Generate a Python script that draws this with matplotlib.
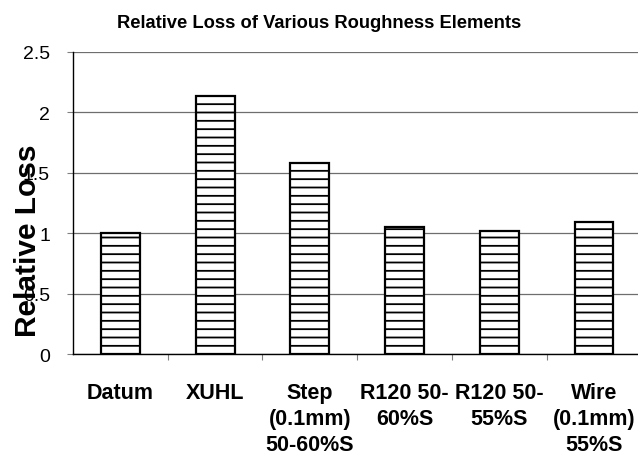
import matplotlib
matplotlib.use("Agg")
import matplotlib.pyplot as plt
import numpy as np

plt.rcParams["font.family"] = ["Liberation Sans", "DejaVu Sans"]
plt.rcParams["hatch.linewidth"] = 1.3

# relative loss for each roughness element (datum = 1)
elements = ["Datum", "XUHL", "Step\n(0.1mm)\n50-60%S", "R120 50-\n60%S",
            "R120 50-\n55%S", "Wire\n(0.1mm)\n55%S"]
rel_loss = [1.0, 2.135, 1.58, 1.048, 1.02, 1.09]
yticks = [0, 0.5, 1, 1.5, 2, 2.5]
ytick_labels = ["0", "0.5", "1", "1.5", "2", "2.5"]

fig = plt.figure(figsize=(6.38, 4.52), dpi=100)
ax = fig.add_axes([0.1144, 0.2146, 0.891, 0.6688])

x = np.arange(len(elements))
ax.bar(x, rel_loss, width=0.41, color="white", edgecolor="black",
       linewidth=1.6, hatch="--", zorder=3)

ax.set_xlim(-0.5, len(elements) - 0.5)
ax.set_ylim(0, 2.5)

ax.set_yticks(yticks)
ax.set_yticklabels(ytick_labels, fontsize=14)
ax.tick_params(axis="y", length=4.5, width=0.8, color="#808080", pad=12)
ax.yaxis.grid(True, color="#6e6e6e", linewidth=0.9, zorder=0)

# labels under the bars, tick marks between categories
ax.set_xticks(x)
ax.set_xticklabels(elements, fontsize=15.5, fontweight="bold", linespacing=1.32)
ax.tick_params(axis="x", which="major", length=0, pad=20)
ax.set_xticks(x[:-1] + 0.5, minor=True)
ax.tick_params(axis="x", which="minor", length=4.5, width=0.8, color="#808080")

for side in ["top", "right"]:
    ax.spines[side].set_visible(False)
ax.spines["left"].set_linewidth(1.0)
ax.spines["bottom"].set_linewidth(1.0)

fig.text(0.5, 1 - 24 / 452, "Relative Loss of Various Roughness Elements",
         ha="center", va="center", fontsize=13.2, fontweight="bold")
fig.text(28 / 638, 1 - 241 / 452, "Relative Loss", rotation=90,
         ha="center", va="center", fontsize=21.5, fontweight="bold")

fig.savefig("out.png", dpi=100)
